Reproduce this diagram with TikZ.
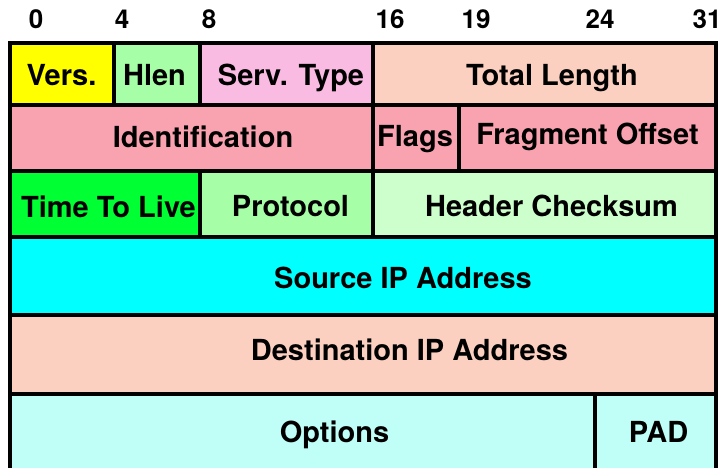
\documentclass[tikz,border=0pt]{standalone}
\usepackage{fontspec}
\setmainfont{TeX Gyre Heros}
\definecolor{cvers}{HTML}{FFFF00}
\definecolor{chlen}{HTML}{A6FFA6}
\definecolor{cserv}{HTML}{FABBE3}
\definecolor{cpeach}{HTML}{FBD0C0}
\definecolor{cident}{HTML}{FAA3B0}
\definecolor{cttl}{HTML}{00FF33}
\definecolor{ccheck}{HTML}{CCFFCC}
\definecolor{csrc}{HTML}{00FFFF}
\definecolor{copt}{HTML}{C0FFF8}
\newcommand\ipfield[6]{\node[fieldbox, fill=#2, anchor=north west,
  minimum width={(#5-#3)*1pt}, minimum height={(#6-#4)*1pt}] (#1) at (#3,#4) {};}
\tikzset{
  fieldbox/.style={draw=black, line width=3.4pt, inner sep=0pt, outer sep=0pt, rectangle},
  ftext/.style={anchor=base, inner sep=0pt, font=\fontsize{29}{29}\selectfont\bfseries},
  btext/.style={anchor=base, inner sep=0pt, font=\fontsize{26}{26}\selectfont\bfseries},
}
\begin{document}
\begin{tikzpicture}[x=1pt,y=-1pt]
\useasboundingbox (0,0) rectangle (726,468);
% row 1
\ipfield{vers}{cvers}{10}{43}{114}{105}
\ipfield{hlen}{chlen}{114}{43}{200}{105}
\ipfield{serv}{cserv}{200}{43}{373}{105}
\ipfield{total}{cpeach}{373}{43}{716}{105}
% row 2
\ipfield{ident}{cident}{10}{105}{373}{171}
\ipfield{flags}{cident}{373}{105}{459}{171}
\ipfield{frag}{cident}{459}{105}{716}{171}
% row 3
\ipfield{ttl}{cttl}{10}{171}{200}{237}
\ipfield{proto}{chlen}{200}{171}{373}{237}
\ipfield{check}{ccheck}{373}{171}{716}{237}
% row 4-5
\ipfield{src}{csrc}{10}{237}{716}{315}
\ipfield{dst}{cpeach}{10}{315}{716}{394}
% row 6
\ipfield{opt}{copt}{10}{394}{595}{480}
\ipfield{pad}{copt}{595}{394}{716}{480}
% field texts
\node[ftext] (vers-t) at (61.5,86) {Vers.};
\node[ftext] (hlen-t) at (154.5,86) {Hlen};
\node[ftext] (serv-t) at (291,86) {Serv. Type};
\node[ftext] (total-t) at (552,86) {Total Length};
\node[ftext] (ident-t) at (203,148) {Identification};
\node[ftext] (flags-t) at (415,147) {Flags};
\node[ftext] (frag-t) at (587.5,145) {Fragment Offset};
\node[ftext] (ttl-t) at (108.5,218) {Time To Live};
\node[ftext] (proto-t) at (290.5,216) {Protocol};
\node[ftext] (check-t) at (551.5,216) {Header Checksum};
\node[ftext] (src-t) at (403,288) {Source IP Address};
\node[ftext] (dst-t) at (409.5,360) {Destination IP Address};
\node[ftext] (opt-t) at (334.5,442) {Options};
\node[ftext] (pad-t) at (658.5,442) {PAD};
% bit labels
\node[btext] (b0) at (36,29) {0};
\node[btext] (b4) at (122,29) {4};
\node[btext] (b8) at (209,29) {8};
\node[btext] (b16) at (390,29) {16};
\node[btext] (b19) at (476,29) {19};
\node[btext] (b24) at (600,29) {24};
\node[btext] (b31) at (707,29) {31};
\end{tikzpicture}
\end{document}
